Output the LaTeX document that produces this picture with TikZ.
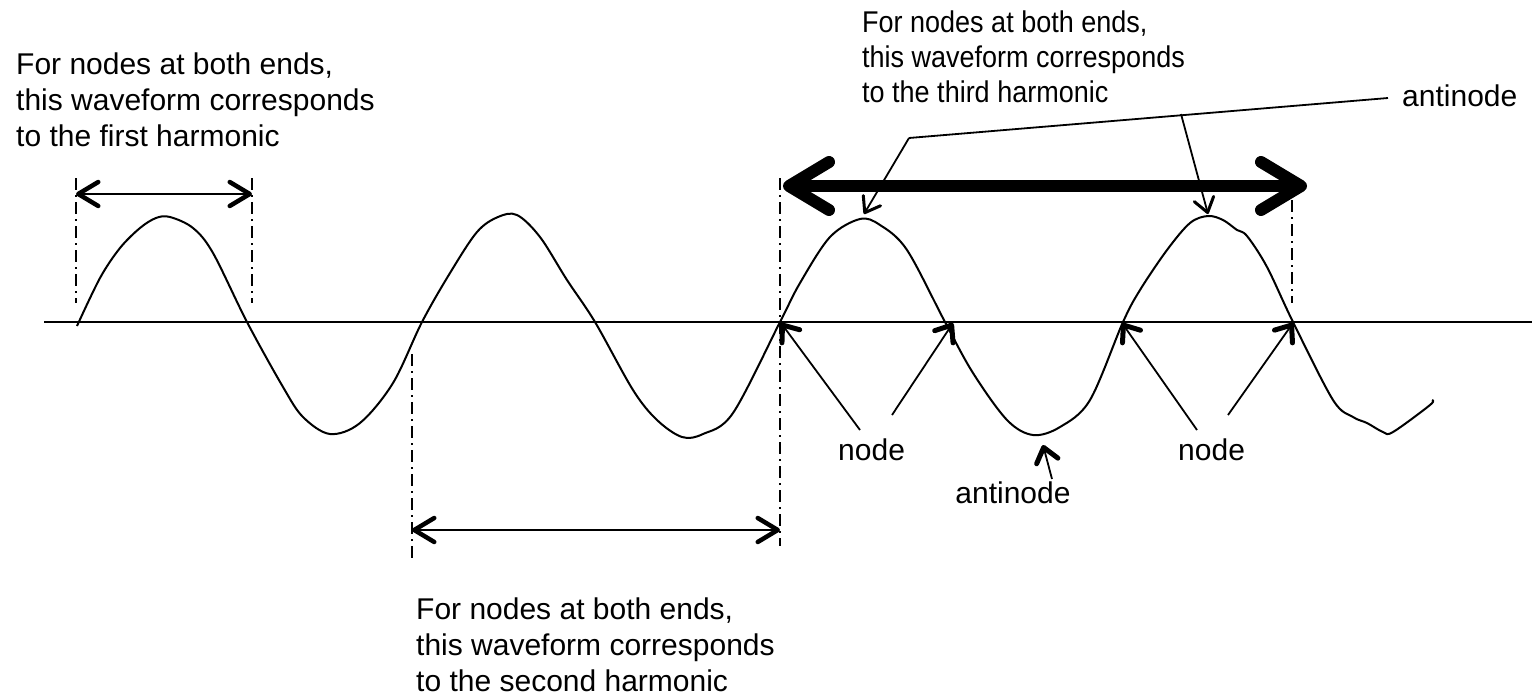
\documentclass[tikz,border=0pt]{standalone}
\usepackage{graphicx}
\usepackage{fontspec}
\setmainfont{Liberation Sans}
\usetikzlibrary{arrows.meta}
\tikzset{
  lbl/.style={inner sep=0pt, font=\fontsize{30}{36}\selectfont, anchor=base west},
  baseline/.style={line width=2pt},
  wave/.style={line width=2pt, line join=round},
  dashdot/.style={line width=1.6pt, dash pattern=on 12pt off 5pt on 2pt off 5pt},
  span/.style={line width=2pt,
    {Straight Barb[length=20pt,width=24pt,line width=4.5pt,round]}-{Straight Barb[length=20pt,width=24pt,line width=4.5pt,round]}},
  bigspan/.style={line width=12pt,
    {Straight Barb[length=40pt,width=48pt,line width=12pt,round]}-{Straight Barb[length=40pt,width=48pt,line width=12pt,round]}},
  ptr/.style={line width=1.8pt, -{Straight Barb[length=14pt,width=22pt,line width=5pt,round]}},
  leader/.style={line width=1.8pt, -{Straight Barb[length=14pt,width=20pt,line width=3pt,round]}},
  leaderline/.style={line width=1.8pt}
}
\begin{document}
\begin{tikzpicture}[x=1pt,y=-1pt]
\useasboundingbox (0,0) rectangle (1539,697);

% axis
\coordinate (axL) at (44,322);
\coordinate (axR) at (1532,322);
\draw[baseline] (axL) -- (axR);

% waveform
\draw[wave] plot[smooth, tension=0.55] coordinates {
 (77,326) (100,278) (120,248) (140,228) (156,218) (170,217) (193,228) (213,253) (247,322)
 (283,387) (303,417) (330,434) (360,423) (393,383) (422,322) (450,273) (477,232)
 (498,217) (517,215) (540,237) (567,280) (595,322) (633,390) (657,420) (682,437)
 (703,434) (733,413) (780,322) (800,283) (830,237) (860,219) (880,225) (907,250)
 (945,322) (973,373) (1007,420) (1033,435) (1060,427) (1090,400) (1123,322)
 (1140,290) (1167,250) (1190,223) (1208,216) (1223,220) (1237,230) (1247,236)
 (1267,267) (1293,322) (1333,400) (1353,417) (1367,423) (1383,432) (1393,432)
 (1430,405) (1432,400)};

% dash-dot guides
\coordinate (g1t) at (76,178);   \coordinate (g1b) at (76,303);
\coordinate (g2t) at (252,178);  \coordinate (g2b) at (252,303);
\coordinate (g3t) at (412,354);  \coordinate (g3b) at (412,560);
\coordinate (g4t) at (780,178);  \coordinate (g4b) at (780,546);
\coordinate (g5t) at (1292,200); \coordinate (g5b) at (1292,303);
\draw[dashdot] (g1t) -- (g1b);
\draw[dashdot] (g2t) -- (g2b);
\draw[dashdot] (g3t) -- (g3b);
\draw[dashdot] (g4t) -- (g4b);
\draw[dashdot] (g5t) -- (g5b);

% span arrows
\coordinate (s1a) at (76,194);  \coordinate (s1b) at (252,194);
\draw[span] (s1a) -- (s1b);
\coordinate (s2a) at (412,530); \coordinate (s2b) at (780,530);
\draw[span] (s2a) -- (s2b);
\coordinate (s3a) at (783,186); \coordinate (s3b) at (1307,186);
\draw[bigspan] (s3a) -- (s3b);

% texts
\node[lbl] (t1a) at (16,74)  {For nodes at both ends,};
\node[lbl] (t1b) at (16,110) {this waveform corresponds};
\node[lbl] (t1c) at (16,146) {to the first harmonic};

\node[lbl] (t2a) at (416,619) {For nodes at both ends,};
\node[lbl] (t2b) at (416,655) {this waveform corresponds};
\node[lbl] (t2c) at (416,691) {to the second harmonic};

\node[lbl] (t3a) at (862,32)  {\scalebox{0.9}[1]{For nodes at both ends,}};
\node[lbl] (t3b) at (862,67)  {\scalebox{0.9}[1]{this waveform corresponds}};
\node[lbl] (t3c) at (862,102) {\scalebox{0.9}[1]{to the third harmonic}};

\node[lbl] (an1) at (1402,106) {antinode};
\node[lbl, anchor=base] (an2) at (1013,503) {antinode};
\node[lbl] (nd1) at (838,460) {node};
\node[lbl] (nd2) at (1178,460) {node};

% node pointers
\coordinate (p1) at (781,323);  \coordinate (q1) at (860,430);
\coordinate (p2) at (953,323);  \coordinate (q2) at (892,415);
\coordinate (p3) at (1122,323); \coordinate (q3) at (1197,430);
\coordinate (p4) at (1293,323); \coordinate (q4) at (1228,415);
\draw[ptr] (q1) -- (p1);
\draw[ptr] (q2) -- (p2);
\draw[ptr] (q3) -- (p3);
\draw[ptr] (q4) -- (p4);

% bottom antinode pointer
\coordinate (pa) at (1043,445); \coordinate (qa) at (1052,479);
\draw[ptr] (qa) -- (pa);

% top antinode leader
\coordinate (lr) at (1388,98);
\coordinate (lc) at (909,138);
\coordinate (lb) at (1181,114);
\coordinate (lt1) at (864,214);
\coordinate (lt2) at (1208,214);
\draw[leaderline] (lr) -- (lc);
\draw[leader] (lc) -- (lt1);
\draw[leader] (lb) -- (lt2);
\end{tikzpicture}
\end{document}
